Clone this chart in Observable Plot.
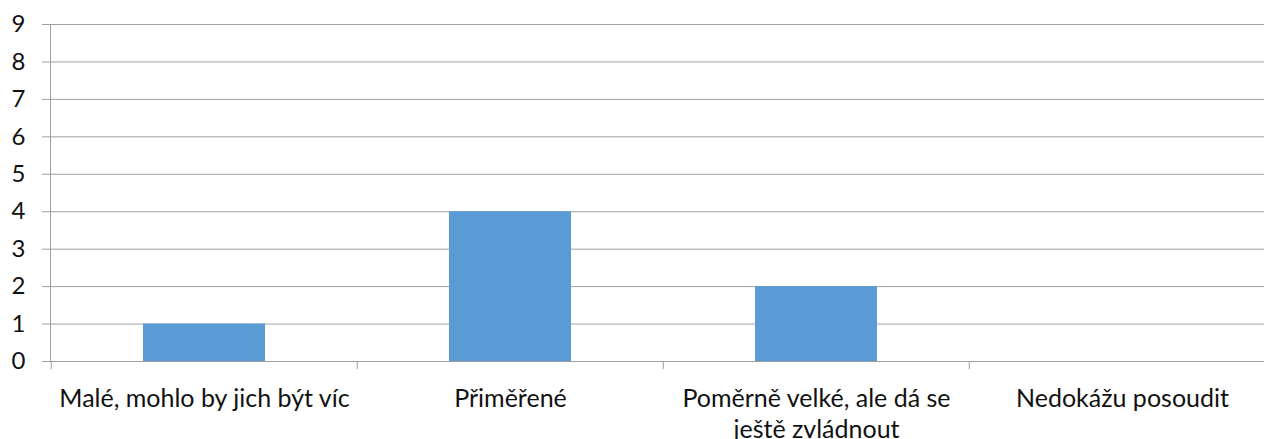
<!DOCTYPE html>
<html>
<head>
<meta charset="utf-8">
<script src="https://cdn.jsdelivr.net/npm/d3@7"></script>
<script src="https://cdn.jsdelivr.net/npm/@observablehq/plot@0.6"></script>
<style>
  html, body { margin: 0; padding: 0; background: #fff; overflow: hidden; }
  #chart svg { display: block; }
</style>
</head>
<body>
<div id="chart"></div>
<script>
const categories = [
  "Malé, mohlo by jich být víc",
  "Přiměřené",
  "Poměrně velké, ale dá se\nještě zvládnout",
  "Nedokážu posoudit"
];
const values = [1, 4, 2, 0];
const yTicks = [0, 1, 2, 3, 4, 5, 6, 7, 8, 9];

const data = categories.map((c, i) => ({category: c, value: values[i]}));
const gray = "#a0a0a0";
const font = "Lato, 'Open Sans', sans-serif";

const chart = Plot.plot({
  width: 1264,
  height: 439,
  marginLeft: 50,
  marginRight: 0,
  marginTop: 24,
  marginBottom: 78,
  style: {fontFamily: font, color: "#111", background: "#fff", fontSize: "24px"},
  x: {domain: categories, range: [50, 1276], paddingInner: 0.6, paddingOuter: 0.3},
  y: {domain: [0, 9]},
  marks: [
    Plot.gridY(yTicks, {stroke: gray, strokeOpacity: 1, strokeWidth: 1}),
    Plot.axisY(yTicks, {tickSize: 8, tickPadding: 17, stroke: gray, strokeOpacity: 1, fontSize: 24, fill: "#111", label: null, tickFormat: d => String(d)}),
    Plot.frame({anchor: "left", stroke: gray, strokeOpacity: 1}),
    Plot.barY(data, {x: "category", y: "value", fill: "#5b9bd5"}),
    Plot.axisX({tickSize: 8, text: null, dx: -153.25, stroke: gray, strokeOpacity: 1, label: null}),
    Plot.axisX({tickSize: 0, tickPadding: 23, fontSize: 25, fill: "#111", lineHeight: 1.26, label: null, textAnchor: "middle"})
  ]
});
document.getElementById("chart").append(chart);
</script>
</body>
</html>
